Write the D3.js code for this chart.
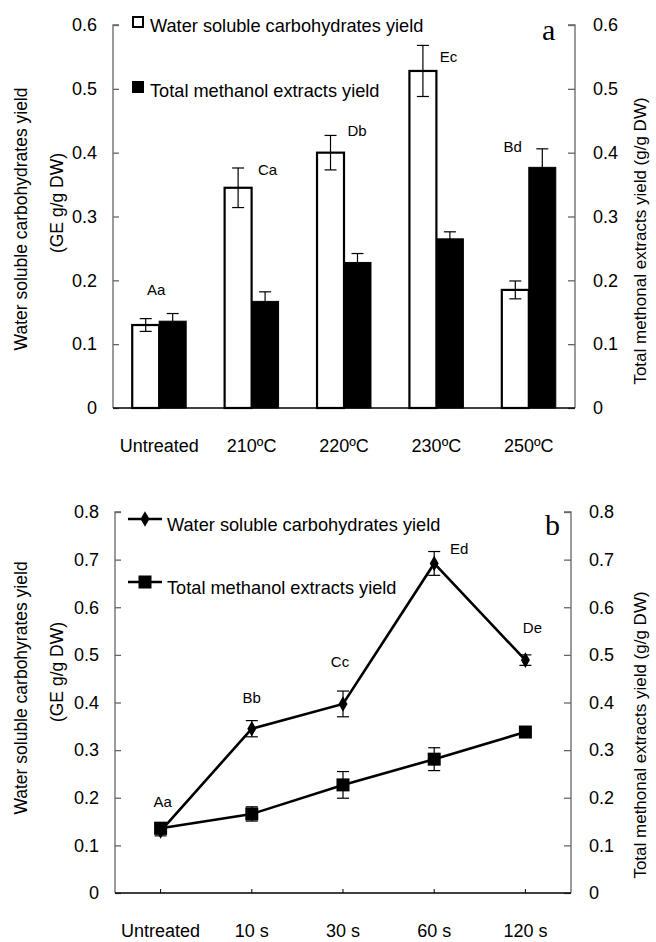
<!DOCTYPE html>
<html>
<head>
<meta charset="utf-8">
<script src="https://cdn.jsdelivr.net/npm/d3@7"></script>
<style>
  body { margin: 0; background: white; }
  text { font-family: "Liberation Sans", Arial, sans-serif; fill: black; }
</style>
</head>
<body>
<script>
// panel a: temperature
let tempCats = ['Untreated', '210ºC', '220ºC', '230ºC', '250ºC']
let wscTemp = [0.13, 0.345, 0.40, 0.528, 0.185]
let wscTempErr = [0.01, 0.031, 0.027, 0.04, 0.014]
let tmeTemp = [0.136, 0.167, 0.228, 0.265, 0.377]
let tmeTempErr = [0.012, 0.015, 0.014, 0.011, 0.029]
let tempLetters = ['Aa', 'Ca', 'Db', 'Ec', 'Bd']
let tempLetterAt = [0.185, 0.373, 0.435, 0.55, 0.41]
let tempLetterDx = [-3, 16, 13, 12, -16]
let tempTicks = [0, 0.1, 0.2, 0.3, 0.4, 0.5, 0.6]

// panel b: time
let timeCats = ['Untreated', '10 s', '30 s', '60 s', '120 s']
let wscTime = [0.13, 0.345, 0.397, 0.692, 0.489]
let wscTimeErr = [0.01, 0.017, 0.027, 0.025, 0.011]
let tmeTime = [0.136, 0.166, 0.227, 0.281, 0.338]
let tmeTimeErr = [0.012, 0.015, 0.028, 0.024, 0.005]
let timeLetters = ['Aa', 'Bb', 'Cc', 'Ed', 'De']
let timeLetterAt = [0.191, 0.41, 0.485, 0.722, 0.558]
let timeLetterDx = [2, 0, -3, 25, 7]
let timeTicks = [0, 0.1, 0.2, 0.3, 0.4, 0.5, 0.6, 0.7, 0.8]

let width = 656
let height = 942

let svg = d3.select('body')
    .append('svg')
        .attr('width', width)
        .attr('height', height)

function drawAxes(g, x0, x1, y, ticks, fmt, leftTitle, rightTitle, titleY, rightTitleY) {
    let left = g.append('g')
        .attr('transform', 'translate(' + x0 + ',0)')
        .call(d3.axisRight(y).tickValues(ticks).tickSize(6).tickFormat(''))
    let right = g.append('g')
        .attr('transform', 'translate(' + x1 + ',0)')
        .call(d3.axisLeft(y).tickValues(ticks).tickSize(7).tickFormat(''))
    g.selectAll('.domain, .tick line')
        .attr('stroke', '#666')
        .attr('stroke-width', 1.3)
    left.select('.domain').attr('d', 'M6,' + y.range()[1] + 'H0V' + y.range()[0])
    right.select('.domain').attr('d', 'M-7,' + y.range()[1] + 'H0V' + y.range()[0])

    g.selectAll('.ylab-l')
        .data(ticks)
        .enter()
        .append('text')
            .attr('x', x0 - 16)
            .attr('y', d => y(d))
            .attr('dy', '0.35em')
            .attr('text-anchor', 'end')
            .attr('font-size', 18)
            .text(fmt)
    g.selectAll('.ylab-r')
        .data(ticks)
        .enter()
        .append('text')
            .attr('x', x1 + 18)
            .attr('y', d => y(d))
            .attr('dy', '0.35em')
            .attr('font-size', 18)
            .text(fmt)

    let lt = g.append('text')
        .attr('transform', 'translate(27,' + titleY + ') rotate(-90)')
        .attr('text-anchor', 'middle')
        .attr('font-size', 17.5)
    lt.append('tspan').attr('x', 0).attr('dy', 0).text(leftTitle)
    lt.append('tspan').attr('x', 16).attr('dy', 36).text('(GE g/g DW)')

    g.append('text')
        .attr('transform', 'translate(646,' + rightTitleY + ') rotate(-90)')
        .attr('text-anchor', 'middle')
        .attr('font-size', 17)
        .text(rightTitle)
}

function errBar(g, cx, yv, e, y) {
    g.append('line')
        .attr('x1', cx).attr('x2', cx)
        .attr('y1', y(yv + e)).attr('y2', y(yv - e))
        .attr('stroke', 'black').attr('stroke-width', 1.2)
    ;[yv + e, yv - e].forEach(v => {
        g.append('line')
            .attr('x1', cx - 6).attr('x2', cx + 6)
            .attr('y1', y(v)).attr('y2', y(v))
            .attr('stroke', 'black').attr('stroke-width', 1.2)
    })
}

// ---------- panel a ----------
let ga = svg.append('g')
let yA = d3.scaleLinear().domain([0, 0.6]).range([408, 25])
let xA = d3.scaleBand().domain(tempCats).range([113, 575]).paddingInner(0.416).paddingOuter(0.208)
let xSub = d3.scaleBand().domain(['wsc', 'tme']).range([0, xA.bandwidth()])

drawAxes(ga, 113, 575, yA, tempTicks, d => d === 0 ? '0' : d3.format('.1f')(d),
    'Water soluble carbohydrates yield', 'Total methonal extracts yield (g/g DW)', 219, 241)

ga.selectAll('.bar-w')
    .data(tempCats)
    .enter()
    .append('rect')
        .attr('x', d => xA(d) + xSub('wsc'))
        .attr('y', (d, i) => yA(wscTemp[i]))
        .attr('width', xSub.bandwidth())
        .attr('height', (d, i) => yA(0) - yA(wscTemp[i]))
        .attr('fill', 'white')
        .attr('stroke', 'black')
        .attr('stroke-width', 2.2)
ga.selectAll('.bar-b')
    .data(tempCats)
    .enter()
    .append('rect')
        .attr('x', d => xA(d) + xSub('tme'))
        .attr('y', (d, i) => yA(tmeTemp[i]))
        .attr('width', xSub.bandwidth())
        .attr('height', (d, i) => yA(0) - yA(tmeTemp[i]))
        .attr('fill', 'black')
        .attr('stroke', 'black')
        .attr('stroke-width', 1)

tempCats.forEach((c, i) => {
    errBar(ga, xA(c) + xSub('wsc') + xSub.bandwidth() / 2, wscTemp[i], wscTempErr[i], yA)
    errBar(ga, xA(c) + xSub('tme') + xSub.bandwidth() / 2, tmeTemp[i], tmeTempErr[i], yA)
    ga.append('text')
        .attr('x', xA(c) + xA.bandwidth() / 2 + tempLetterDx[i])
        .attr('y', yA(tempLetterAt[i]))
        .attr('dy', '0.35em')
        .attr('text-anchor', 'middle')
        .attr('font-size', 15)
        .text(tempLetters[i])
})

// x axis
ga.append('line')
    .attr('x1', 113).attr('x2', 575)
    .attr('y1', yA(0)).attr('y2', yA(0))
    .attr('stroke', 'black').attr('stroke-width', 1.5)
ga.selectAll('.xlab')
    .data(tempCats)
    .enter()
    .append('text')
        .attr('x', d => xA(d) + xA.bandwidth() / 2)
        .attr('y', 452)
        .attr('text-anchor', 'middle')
        .attr('font-size', 18)
        .text(d => d)

// legend a
ga.append('rect').attr('x', 133).attr('y', 17).attr('width', 10).attr('height', 10)
    .attr('fill', 'white').attr('stroke', 'black').attr('stroke-width', 2)
ga.append('text').attr('x', 150).attr('y', 32).attr('font-size', 18.2).text('Water soluble carbohydrates yield')
ga.append('rect').attr('x', 132).attr('y', 81).attr('width', 12).attr('height', 12).attr('fill', 'black')
ga.append('text').attr('x', 150).attr('y', 97).attr('font-size', 18.2).text('Total methanol extracts yield')

ga.append('text').attr('x', 542).attr('y', 40)
    .style('font-family', '"Liberation Serif", "Times New Roman", serif')
    .attr('font-size', 30).text('a')

// ---------- panel b ----------
let gb = svg.append('g')
let yB = d3.scaleLinear().domain([0, 0.8]).range([893, 512])
let xB = d3.scalePoint().domain(timeCats).range([115, 571]).padding(0.5)

drawAxes(gb, 115, 571, yB, timeTicks, d => d === 0 ? '0' : d3.format('.1f')(d),
    'Water soluble carbohyrates yield', 'Total methonal extracts yield (g/g DW)', 688, 735)

let line = d3.line()
    .x((d, i) => xB(timeCats[i]))
    .y(d => yB(d))

gb.append('path')
    .attr('d', line(wscTime))
    .attr('fill', 'none').attr('stroke', 'black').attr('stroke-width', 2.6)
gb.append('path')
    .attr('d', line(tmeTime))
    .attr('fill', 'none').attr('stroke', 'black').attr('stroke-width', 2.6)

timeCats.forEach((c, i) => {
    let cx = xB(c)
    errBar(gb, cx, tmeTime[i], tmeTimeErr[i], yB)
    errBar(gb, cx, wscTime[i], wscTimeErr[i], yB)
    gb.append('rect')
        .attr('x', cx - 6.5).attr('y', yB(tmeTime[i]) - 6.5)
        .attr('width', 13).attr('height', 13).attr('fill', 'black')
    gb.append('path')
        .attr('d', d3.symbol(d3.symbolDiamond, 70)())
        .attr('transform', 'translate(' + cx + ',' + yB(wscTime[i]) + ')')
        .attr('fill', 'black')
    gb.append('text')
        .attr('x', cx + timeLetterDx[i])
        .attr('y', yB(timeLetterAt[i]))
        .attr('dy', '0.35em')
        .attr('text-anchor', 'middle')
        .attr('font-size', 15)
        .text(timeLetters[i])
})

gb.append('line')
    .attr('x1', 115).attr('x2', 571)
    .attr('y1', yB(0)).attr('y2', yB(0))
    .attr('stroke', 'black').attr('stroke-width', 1.5)
gb.selectAll('.xtick')
    .data(timeCats)
    .enter()
    .append('line')
        .attr('x1', d => xB(d)).attr('x2', d => xB(d))
        .attr('y1', yB(0) - 4).attr('y2', yB(0))
        .attr('stroke', 'black').attr('stroke-width', 1)
gb.selectAll('.xlab')
    .data(timeCats)
    .enter()
    .append('text')
        .attr('x', d => xB(d))
        .attr('y', 937)
        .attr('text-anchor', 'middle')
        .attr('font-size', 18)
        .text(d => d)

// legend b
gb.append('line').attr('x1', 128).attr('x2', 162).attr('y1', 519).attr('y2', 519)
    .attr('stroke', 'black').attr('stroke-width', 2.6)
gb.append('path').attr('d', d3.symbol(d3.symbolDiamond, 70)())
    .attr('transform', 'translate(145,519)').attr('fill', 'black')
gb.append('text').attr('x', 167).attr('y', 531).attr('font-size', 18.2).text('Water soluble carbohydrates yield')
gb.append('line').attr('x1', 128).attr('x2', 162).attr('y1', 582).attr('y2', 582)
    .attr('stroke', 'black').attr('stroke-width', 2.6)
gb.append('rect').attr('x', 138.5).attr('y', 575.5).attr('width', 13).attr('height', 13).attr('fill', 'black')
gb.append('text').attr('x', 167).attr('y', 594).attr('font-size', 18.2).text('Total methanol extracts yield')

gb.append('text').attr('x', 545).attr('y', 535)
    .style('font-family', '"Liberation Serif", "Times New Roman", serif')
    .attr('font-size', 30).text('b')
</script>
</body>
</html>
